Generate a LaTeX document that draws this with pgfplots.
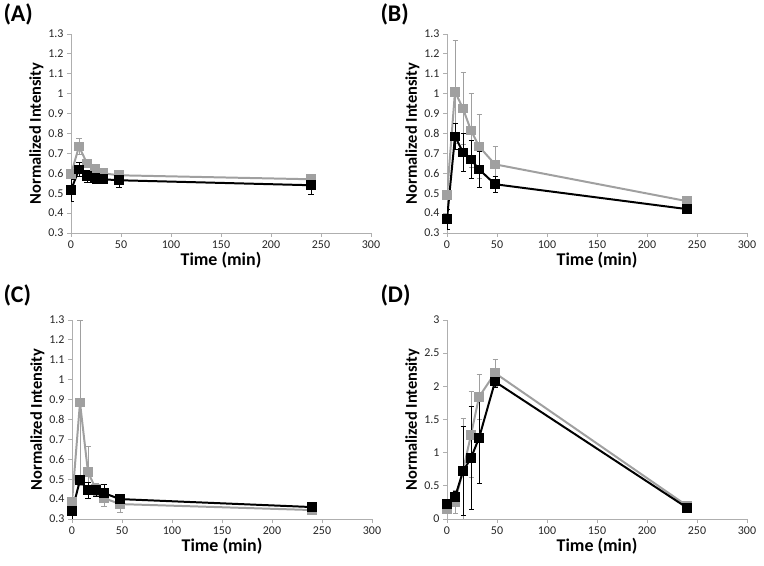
\documentclass[border=0pt]{standalone}
\usepackage{pgfplots}
\pgfplotsset{compat=1.18}
\usepackage{fontspec}
\setmainfont{Carlito}
\definecolor{lgray}{RGB}{160,160,160}
\definecolor{axgray}{RGB}{175,175,175}
\pgfplotsset{
  panel/.style={
    scale only axis, width=300bp, height=199bp,
    axis x line=bottom, axis y line=left,
    axis line style={-, axgray, line width=0.9pt},
    tick style={axgray, line width=0.9pt},
    tick align=outside, major tick length=4bp,
    xmin=0, xmax=300, xtick={0,50,...,300},
    /pgf/number format/assume math mode=true,
    ticklabel style={font=\fontsize{12}{12}\selectfont, text=black!85},
    xlabel={\textbf{Time (min)}},
    ylabel={\textbf{Normalized Intensity}},
    xlabel style={font=\fontsize{18}{18}\selectfont, yshift=3bp},
    ylabel style={font=\fontsize{16.5}{16.5}\selectfont, yshift=-2bp},
    anchor=origin,
  },
  gser/.style={lgray, line width=2pt, mark=square*, mark size=3.8bp, mark options={solid, fill=lgray},
    error bars/.cd, y dir=both, y explicit, error bar style={lgray, line width=0.8pt}, error mark options={rotate=90, mark size=2.5bp, lgray, line width=0.8pt}},
  bser/.style={black, line width=2pt, mark=square*, mark size=3.8bp, mark options={solid, fill=black},
    error bars/.cd, y dir=both, y explicit, error bar style={black, line width=0.8pt}, error mark options={rotate=90, mark size=2.5bp, black, line width=0.8pt}},
}
\tikzset{plab/.style={anchor=north west, font=\fontsize{24}{24}\selectfont\bfseries}}
\begin{document}
\begin{tikzpicture}
\path[use as bounding box] (0,0) rectangle (764bp,566bp);
% Panel A
\node[plab] at (0bp,566bp) {(A)};
\begin{axis}[panel, at={(71bp,333bp)}, ymin=0.3, ymax=1.3, ytick={0.3,0.4,...,1.3},
  yticklabel style={/pgf/number format/.cd, fixed, precision=1}]
\addplot+[gser] coordinates {(0,0.595) +- (0,0.01) (8,0.735) +- (0,0.04) (16,0.65) +- (0,0.02) (24,0.625) +- (0,0.015) (32,0.60) +- (0,0.01) (48,0.59) +- (0,0.025) (240,0.57) +- (0,0.02)};
\addplot+[bser] coordinates {(0,0.515) +- (0,0.055) (8,0.62) +- (0,0.035) (16,0.585) +- (0,0.03) (24,0.575) +- (0,0.025) (32,0.57) +- (0,0.015) (48,0.565) +- (0,0.035) (240,0.54) +- (0,0.045)};
\end{axis}
% Panel B
\node[plab] at (377bp,566bp) {(B)};
\begin{axis}[panel, at={(447bp,333bp)}, ymin=0.3, ymax=1.3, ytick={0.3,0.4,...,1.3},
  yticklabel style={/pgf/number format/.cd, fixed, precision=1}]
\addplot+[gser] coordinates {(0,0.49) +- (0,0.01) (8,1.01) +- (0,0.26) (16,0.925) +- (0,0.18) (24,0.815) +- (0,0.185) (32,0.735) +- (0,0.16) (48,0.645) +- (0,0.09) (240,0.46) +- (0,0.01)};
\addplot+[bser] coordinates {(0,0.37) +- (0,0.05) (8,0.785) +- (0,0.065) (16,0.705) +- (0,0.095) (24,0.67) +- (0,0.095) (32,0.62) +- (0,0.09) (48,0.545) +- (0,0.04) (240,0.42) +- (0,0.01)};
\end{axis}
% Panel C
\node[plab] at (0bp,285bp) {(C)};
\begin{axis}[panel, at={(72bp,47bp)}, ymin=0.3, ymax=1.3, ytick={0.3,0.4,...,1.3},
  yticklabel style={/pgf/number format/.cd, fixed, precision=1}]
\addplot+[gser] coordinates {(0,0.385) +- (0,0.01) (8,0.885) +- (0,0.415) (16,0.535) +- (0,0.13) (24,0.45) +- (0,0.03) (32,0.405) +- (0,0.04) (48,0.375) +- (0,0.04) (240,0.345) +- (0,0.015)};
\addplot+[bser] coordinates {(0,0.34) +- (0,0.04) (8,0.495) +- (0,0.015) (16,0.445) +- (0,0.04) (24,0.445) +- (0,0.03) (32,0.43) +- (0,0.045) (48,0.40) +- (0,0.01) (240,0.36) +- (0,0.01)};
\end{axis}
% Panel D
\node[plab] at (377bp,285bp) {(D)};
\begin{axis}[panel, at={(447bp,47bp)}, ymin=0, ymax=3, ytick={0,0.5,...,3}]
\addplot+[gser] coordinates {(0,0.15) +- (0,0.02) (8,0.26) +- (0,0.17) (16,0.73) +- (0,0.78) (24,1.27) +- (0,0.65) (32,1.84) +- (0,0.34) (48,2.2) +- (0,0.2) (240,0.2) +- (0,0.02)};
\addplot+[bser] coordinates {(0,0.23) +- (0,0.02) (8,0.33) +- (0,0.08) (16,0.72) +- (0,0.67) (24,0.92) +- (0,0.78) (32,1.22) +- (0,0.69) (48,2.07) +- (0,0.08) (240,0.17) +- (0,0.02)};
\end{axis}
\end{tikzpicture}
\end{document}
